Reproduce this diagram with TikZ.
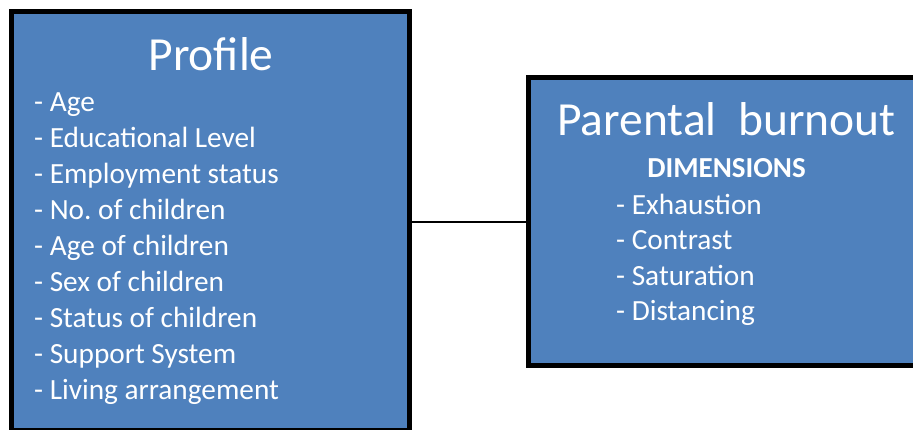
\documentclass[tikz,border=0pt]{standalone}
\usepackage{fontspec}
\setmainfont{Carlito}
\frenchspacing
\definecolor{boxblue}{HTML}{4F81BD}
\begin{document}
\begin{tikzpicture}[x=1pt,y=-1pt,
  bluebox/.style={draw=black,line width=5pt,fill=boxblue,rectangle,inner sep=0pt},
  titletext/.style={text=white,font=\fontsize{47.5}{52}\selectfont,anchor=base,inner sep=0pt},
  itemtext/.style={text=white,font=\fontsize{29.3}{33}\selectfont,anchor=base west,inner sep=0pt},
  headtext/.style={text=white,font=\fontsize{29}{33}\selectfont\bfseries,anchor=base,inner sep=0pt}]
\useasboundingbox (0,0) rectangle (913,430);
\clip (0,0) rectangle (913,430);
\node[bluebox,minimum width=398pt,minimum height=418.5pt] (L) at (210.5,220.75) {};
\node[bluebox,minimum width=392pt,minimum height=287.5pt] (R) at (724,221.75) {};
\draw[line width=2pt,black] (L.east |- R.west) -- (R.west);
\node[titletext] (t1) at (211,71) {Profile};
\node[itemtext] (a1) at (34,111.5) {- Age};
\node[itemtext] (a2) at (34,147.5) {- Educational Level};
\node[itemtext] (a3) at (34,183.5) {- Employment status};
\node[itemtext] (a4) at (34,219.5) {- No. of children};
\node[itemtext] (a5) at (34,255.5) {- Age of children};
\node[itemtext] (a6) at (34,291.5) {- Sex of children};
\node[itemtext] (a7) at (34,327.5) {- Status of children};
\node[itemtext] (a8) at (34,363) {- Support System};
\node[itemtext] (a9) at (34,399) {- Living arrangement};
\node[titletext] (t2) at (726.5,136) {Parental\ \ burnout};
\node[headtext] (h2) at (726.5,178) {DIMENSIONS};
\node[itemtext] (b1) at (616,214.5) {- Exhaustion};
\node[itemtext] (b2) at (616,249.5) {- Contrast};
\node[itemtext] (b3) at (616,285.5) {- Saturation};
\node[itemtext] (b4) at (616,320.5) {- Distancing};
\end{tikzpicture}
\end{document}
